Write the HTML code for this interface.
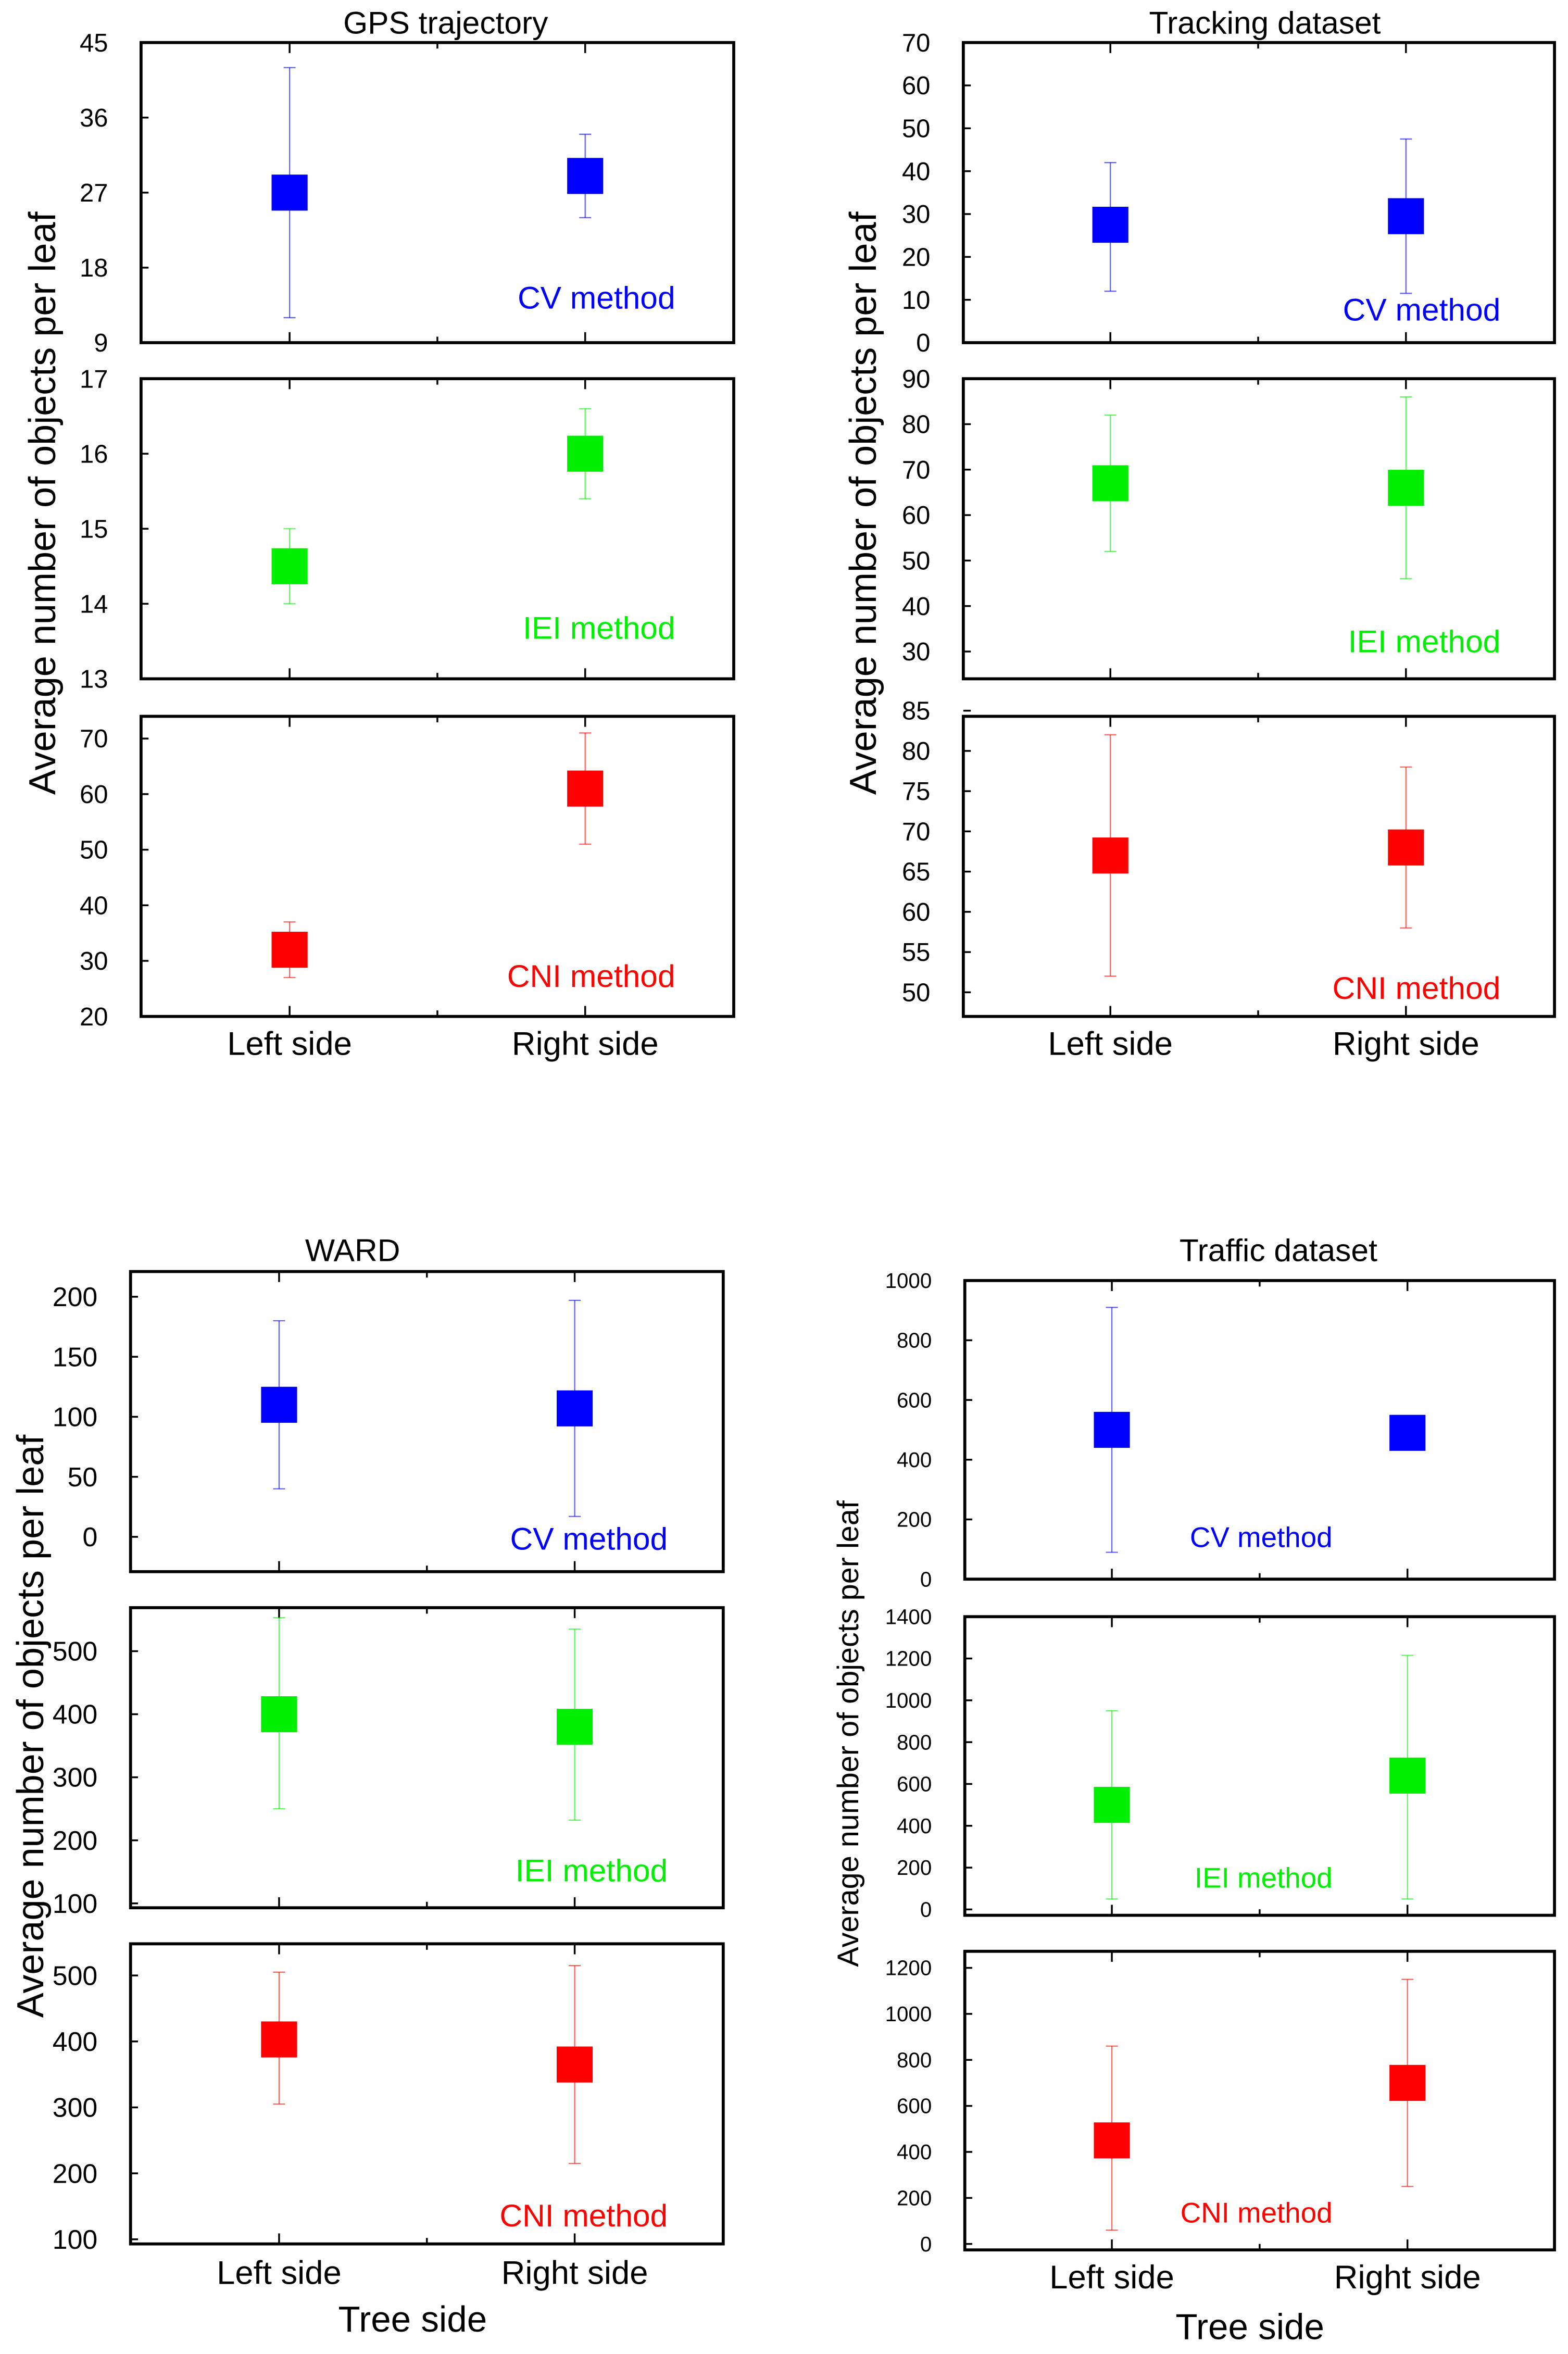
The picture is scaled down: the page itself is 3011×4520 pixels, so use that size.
<!DOCTYPE html>
<html><head><meta charset="utf-8"><style>
html,body{margin:0;padding:0;background:#fff}
svg{display:block}
text{font-family:"Liberation Sans",Arial,sans-serif}
</style></head><body>
<svg id="chart" width="3011" height="4520" viewBox="0 0 1045 1568" xmlns="http://www.w3.org/2000/svg"></svg>
<script>
// ---- data ----
const categories = ["Left side", "Right side"];
const methods = ["CV method", "IEI method", "CNI method"];
const methodColors = ["#0000ff", "#00ee00", "#ff0000"];

const gpsMean = [[27, 29], [14.5, 16], [32, 61]];
const gpsLow  = [[12, 24], [14, 15.4], [27, 51]];
const gpsHigh = [[42, 34], [15, 16.6], [37, 71]];
const gpsTicks = [[9, 18, 27, 36, 45], [13, 14, 15, 16, 17], [20, 30, 40, 50, 60, 70]];

const trkMean = [[27.5, 29.5], [67, 66], [67, 68]];
const trkLow  = [[12, 11.5], [52, 46], [52, 58]];
const trkHigh = [[42, 47.5], [82, 86], [82, 78]];
const trkTicks = [[0, 10, 20, 30, 40, 50, 60, 70], [30, 40, 50, 60, 70, 80, 90], [50, 55, 60, 65, 70, 75, 80, 85]];

const wardMean = [[110, 107], [400, 380], [403, 365]];
const wardLow  = [[40, 17], [250, 232], [305, 215]];
const wardHigh = [[180, 197], [553, 535], [505, 515]];
const wardTicks = [[0, 50, 100, 150, 200], [100, 200, 300, 400, 500], [100, 200, 300, 400, 500]];

const trfMean = [[500, 490], [500, 640], [450, 700]];
const trfLow  = [[90, 470], [50, 50], [60, 250]];
const trfHigh = [[910, 510], [950, 1215], [860, 1150]];
const trfTicks = [[0, 200, 400, 600, 800, 1000], [0, 200, 400, 600, 800, 1000, 1200, 1400], [0, 200, 400, 600, 800, 1000, 1200]];

// ---- layout (not data) ----
const panels = [
  {id:"gps", title:"GPS trajectory", titleX:297, x0:94, x1:489, tops:[28,252,477], h:200,
   dom:[[9,45],[13,17],[20,74]], mean:gpsMean, low:gpsLow, high:gpsHigh, ticks:gpsTicks,
   cx:[193,390], labX:450, labY:[198,418,650], fs:17, labFs:21, titleY:15, ylabX:28, ylabY:335, ylabFs:25, treeSide:false, xlabY:695},
  {id:"tracking", title:"Tracking dataset", titleX:843, x0:642, x1:1036, tops:[28,252,477], h:200,
   dom:[[0,70],[24,90],[47,84.3]], mean:trkMean, low:trkLow, high:trkHigh, ticks:trkTicks,
   cx:[740,937], labX:1000, labY:[206,427,658], fs:17, labFs:21, titleY:15, ylabX:575, ylabY:335, ylabFs:25, treeSide:false, xlabY:695},
  {id:"ward", title:"WARD", titleX:235, x0:87, x1:482, tops:[847,1071,1295], h:200,
   dom:[[-29,221],[93,569],[93,548]], mean:wardMean, low:wardLow, high:wardHigh, ticks:wardTicks,
   cx:[186,383], labX:445, labY:[1025,1246,1476], fs:18, labFs:21, titleY:833, ylabX:20, ylabY:1150, ylabFs:25, treeSide:true, xlabY:1514, tsX:275, tsY:1545},
  {id:"traffic", title:"Traffic dataset", titleX:852, x0:643, x1:1036, tops:[853,1077,1300], h:199,
   dom:[[0,1000],[-28,1400],[-26,1272]], mean:trfMean, low:trfLow, high:trfHigh, ticks:trfTicks,
   cx:[741,938], labX:888, labY:[1024,1251,1474], fs:14, labFs:19, titleY:833, ylabX:565, ylabY:1155, ylabFs:20, treeSide:true, xlabY:1517, tsX:833, tsY:1550}
];

const NS = "http://www.w3.org/2000/svg";
const svg = document.getElementById("chart");
function mk(tag, attrs, parent, txt){
  const e = document.createElementNS(NS, tag);
  for (const k in attrs) e.setAttribute(k, attrs[k]);
  if (txt !== undefined) e.textContent = txt;
  (parent || svg).appendChild(e);
  return e;
}

panels.forEach(p => {
  const g = mk("g", {});
  
  
  const t = mk("text", {x:p.titleX, y:p.titleY+7, "text-anchor":"middle", "font-size":21}, g, p.title);
  
  
  const yl = mk("text", {x:p.ylabX, y:p.ylabY, "text-anchor":"middle", "font-size":p.ylabFs,
    transform:`rotate(-90 ${p.ylabX} ${p.ylabY})`, dy:"0.35em"}, g, "Average number of objects per leaf");
  
  

  methods.forEach((m, mi) => {
    const top = p.tops[mi], bot = top + p.h;
    const [d0, d1] = p.dom[mi];
    const ys = v => bot - (v - d0) / (d1 - d0) * p.h;
    const sg = mk("g", {}, g);
    
    
    const frame = mk("rect", {x:p.x0, y:top, width:p.x1-p.x0, height:p.h, fill:"none", stroke:"#000", "stroke-width":2}, sg);
    
    
    p.ticks[mi].forEach(v => {
      const y = ys(v);
      mk("line", {x1:p.x0, x2:p.x0+5, y1:y, y2:y, stroke:"#000", "stroke-width":1.2}, sg);
      const tl = mk("text", {x:p.x0-22, y:y, "text-anchor":"end", "font-size":p.fs, dy:"0.35em"}, sg, String(v));
      
      
    });
    const mid = (p.cx[0] + p.cx[1]) / 2;
    [p.cx[0], mid, p.cx[1]].forEach((x, i) => {
      const len = i === 1 ? 4 : 7;
      mk("line", {x1:x, x2:x, y1:bot, y2:bot-len, stroke:"#000", "stroke-width":1.2}, sg);
      mk("line", {x1:x, x2:x, y1:top, y2:top+len, stroke:"#000", "stroke-width":1.2}, sg);
    });
    const col = methodColors[mi];
    categories.forEach((c, ci) => {
      const x = p.cx[ci];
      const yl2 = ys(p.low[mi][ci]), yh = ys(p.high[mi][ci]), ym = ys(p.mean[mi][ci]);
      const eb = mk("g", {stroke:col, "stroke-width":0.8, "stroke-opacity":0.6}, sg);
      
      
      mk("line", {x1:x, x2:x, y1:yl2, y2:yh}, eb);
      mk("line", {x1:x-4, x2:x+4, y1:yl2, y2:yl2}, eb);
      mk("line", {x1:x-4, x2:x+4, y1:yh, y2:yh}, eb);
      const sq = mk("rect", {x:x-12, y:ym-12, width:24, height:24, fill:col}, sg);
      
      
    });
    const lab = mk("text", {x:p.labX, y:p.labY[mi], "text-anchor":"end", "font-size":p.labFs, fill:methodColors[mi], dy:"0.35em"}, sg, m);
    
    
  });

  categories.forEach((c, ci) => {
    const xl = mk("text", {x:p.cx[ci], y:p.xlabY, "text-anchor":"middle", "font-size":22, dy:"0.35em"}, g, c);
    
    
  });
  if (p.treeSide) {
    const ts = mk("text", {x:p.tsX, y:p.tsY, "text-anchor":"middle", "font-size":24, dy:"0.35em"}, g, "Tree side");
    
    
  }
});
</script>
</body></html>
